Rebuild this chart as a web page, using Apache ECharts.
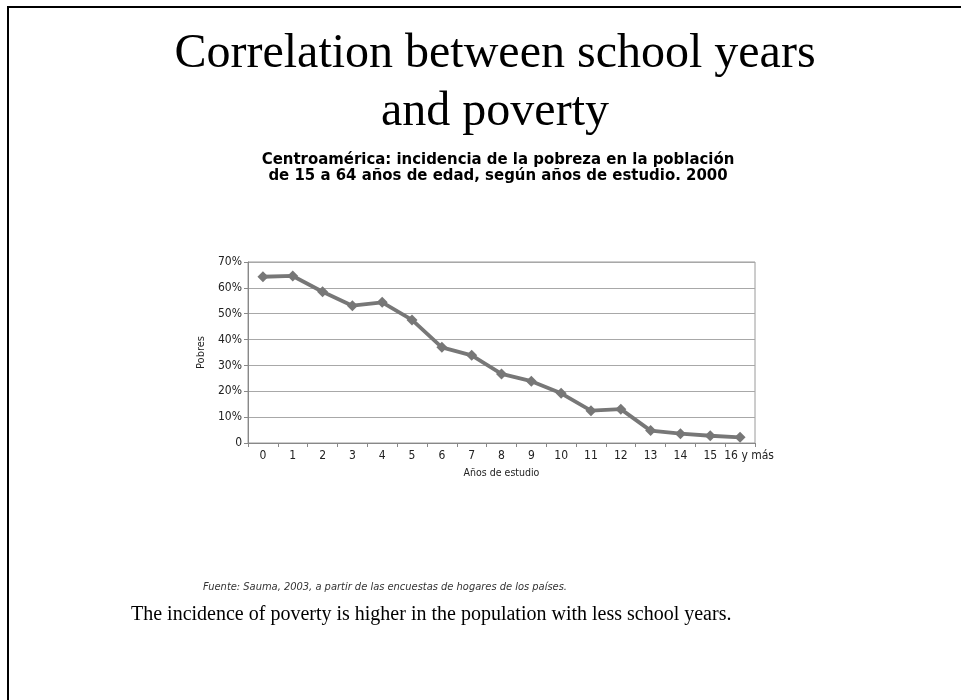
<!DOCTYPE html>
<html>
<head>
<meta charset="utf-8">
<script src="https://cdn.jsdelivr.net/npm/echarts@6/dist/echarts.min.js"></script>
<style>
  html, body { margin: 0; padding: 0; background: #fff; }
  #chart { width: 961px; height: 700px; }
</style>
</head>
<body>
<div id="chart"></div>
<script>
// Years of schooling (categories) and share of poor population (%)
const yearsOfStudy = ['0', '1', '2', '3', '4', '5', '6', '7', '8', '9', '10', '11', '12', '13', '14', '15', '16 y más'];
const povertyPct = [64.3, 64.6, 58.5, 53.1, 54.4, 47.6, 37.0, 33.9, 26.7, 23.9, 19.2, 12.5, 13.1, 4.8, 3.6, 2.8, 2.2];
const yTicks = [0, 10, 20, 30, 40, 50, 60, 70];

const condensed = '"Liberation Sans Narrow", "DejaVu Sans Condensed", "Noto Sans", sans-serif';
const serif = '"Liberation Serif", "DejaVu Serif", serif';

const chart = echarts.init(document.getElementById('chart'), null, { renderer: 'canvas' });

chart.setOption({
  backgroundColor: '#ffffff',
  animation: false,
  title: [
    {
      text: 'Correlation between school years\nand poverty',
      left: 490, top: 20, textAlign: 'center',
      textStyle: { fontFamily: serif, fontSize: 48, fontWeight: 'normal', color: '#000', lineHeight: 58 }
    },
    {
      text: 'Centroamérica: incidencia de la pobreza en la población\nde 15 a 64 años de edad, según años de estudio. 2000',
      left: 493, top: 147, textAlign: 'center',
      textStyle: { fontFamily: condensed, fontSize: 16.6, fontWeight: 'bold', color: '#000', lineHeight: 16 }
    }
  ],
  grid: {
    left: 248, right: 206, top: 262, bottom: 257,
    show: true, borderColor: '#9a9a9a', borderWidth: 1
  },
  xAxis: {
    type: 'category',
    data: yearsOfStudy.map((v, i) => i === yearsOfStudy.length - 1
      ? { value: v, textStyle: { padding: [0, 0, 0, 18] } }
      : v),
    boundaryGap: true,
    name: 'Años de estudio',
    nameLocation: 'middle',
    nameGap: 25,
    nameTextStyle: { fontFamily: condensed, fontSize: 10.5, color: '#222' },
    axisLine: { lineStyle: { color: '#888', width: 1 } },
    axisTick: { show: true, length: 4, interval: 0, lineStyle: { color: '#888' } },
    axisLabel: { fontFamily: condensed, fontSize: 12, color: '#222', margin: 7, interval: 0 }
  },
  yAxis: {
    type: 'value',
    min: 0, max: 70, interval: 10,
    name: 'Pobres',
    nameLocation: 'middle',
    nameGap: 38,
    nameRotate: 90,
    nameTextStyle: { fontFamily: condensed, fontSize: 11, color: '#222' },
    axisLine: { show: true, lineStyle: { color: '#888', width: 1 } },
    axisTick: { show: true, length: 4, lineStyle: { color: '#888' } },
    axisLabel: {
      fontFamily: condensed, fontSize: 12, color: '#222', margin: 6,
      formatter: v => yTicks.includes(v) ? (v === 0 ? '0' : v + '%') : ''
    },
    splitLine: { show: true, lineStyle: { color: '#a8a8a8', width: 1 } }
  },
  series: [{
    type: 'line',
    data: povertyPct,
    symbol: 'diamond',
    symbolSize: 11,
    lineStyle: { color: '#777777', width: 3.8 },
    itemStyle: { color: '#777777' }
  }],
  graphic: [
    // slide frame: top and left edges
    { type: 'rect', shape: { x: 7, y: 6, width: 954, height: 2 }, style: { fill: '#000' } },
    { type: 'rect', shape: { x: 7, y: 6, width: 2, height: 694 }, style: { fill: '#000' } },
    {
      type: 'text', left: 203, top: 582,
      style: {
        text: 'Fuente: Sauma, 2003, a partir de las encuestas de hogares de los países.',
        font: 'italic 11px ' + condensed, fill: '#333'
      }
    },
    {
      type: 'text', left: 131, top: 605,
      style: {
        text: 'The incidence of poverty is higher in the population with less school years.',
        font: '20px ' + serif, fill: '#000'
      }
    }
  ]
});
</script>
</body>
</html>
